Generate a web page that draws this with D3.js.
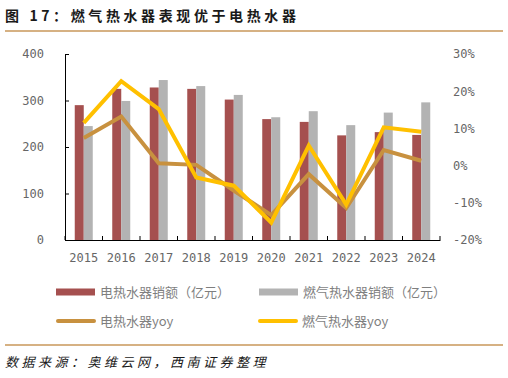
<!DOCTYPE html>
<html>
<head>
<meta charset="utf-8">
<script src="https://cdn.jsdelivr.net/npm/d3@7"></script>
<style>
  body { margin: 0; background: #fff; }
  svg { display: block; }
  .tick text { font-family: "DejaVu Sans Mono", monospace; font-size: 12px; fill: #666; }
  .legend text { font-family: "Noto Sans CJK SC", sans-serif; font-size: 13px; fill: #7f7f7f; }
</style>
</head>
<body>
<div id="chart"></div>
<script>
// data
const years = ["2015", "2016", "2017", "2018", "2019", "2020", "2021", "2022", "2023", "2024"];
const electricSales = [290, 325, 328, 325, 302, 260, 254, 225, 232, 226];
const gasSales = [245, 299, 344, 331, 312, 264, 277, 247, 274, 296];
const electricYoy = [7.4, 13.2, 0.6, 0.2, -6.7, -13.3, -2.3, -11.4, 4.2, 1.3];
const gasYoy = [11.5, 22.7, 15.2, -3.2, -5.4, -15.3, 5.4, -10.5, 10.3, 9.1];
const leftTicks = [0, 100, 200, 300, 400];
const rightTicks = [-20, -10, 0, 10, 20, 30];

const colors = {
  electric: "#a5504f",
  gas: "#b3b3b3",
  electricYoy: "#c8913f",
  gasYoy: "#ffc000"
};

const W = 508, H = 378;
const margin = {top: 54, right: 68, bottom: 138, left: 65};
const width = W - margin.left - margin.right;
const height = H - margin.top - margin.bottom;

const svg = d3.select("#chart").append("svg")
  .attr("width", W)
  .attr("height", H);

// title and rules
svg.append("text")
  .attr("x", 5)
  .attr("y", 21)
  .attr("font-family", "Noto Sans CJK SC, sans-serif")
  .attr("font-weight", "bold")
  .attr("font-size", 14)
  .attr("letter-spacing", 3.6)
  .attr("fill", "#1a1a1a")
  .text("图 17：燃气热水器表现优于电热水器");

svg.append("line")
  .attr("x1", 5).attr("x2", 503)
  .attr("y1", 31).attr("y2", 31)
  .attr("stroke", "#c9975a").attr("stroke-width", 1.5);

svg.append("line")
  .attr("x1", 5).attr("x2", 503)
  .attr("y1", 345).attr("y2", 345)
  .attr("stroke", "#c9975a").attr("stroke-width", 1.5);

svg.append("text")
  .attr("x", 5)
  .attr("y", 367)
  .attr("font-family", "Noto Sans CJK SC, sans-serif")
  .attr("font-size", 13)
  .attr("font-style", "italic")
  .attr("letter-spacing", 3.5)
  .attr("fill", "#1a1a1a")
  .text("数据来源：奥维云网，西南证券整理");

const chart = svg.append("g")
  .attr("transform", `translate(${margin.left},${margin.top})`);

// scales
const x = d3.scaleBand().domain(years).range([0, width]);
const y = d3.scaleLinear().domain([0, 400]).range([height, 0]);
const yRight = d3.scaleLinear().domain([-20, 30]).range([height, 0]);
const barW = 9;

// bars
chart.selectAll(".bar-electric")
  .data(years)
  .join("rect")
    .attr("class", "bar-electric")
    .attr("x", d => x(d) + x.bandwidth() / 2 - barW)
    .attr("y", (d, i) => y(electricSales[i]))
    .attr("width", barW)
    .attr("height", (d, i) => height - y(electricSales[i]))
    .attr("fill", colors.electric);

chart.selectAll(".bar-gas")
  .data(years)
  .join("rect")
    .attr("class", "bar-gas")
    .attr("x", d => x(d) + x.bandwidth() / 2)
    .attr("y", (d, i) => y(gasSales[i]))
    .attr("width", barW)
    .attr("height", (d, i) => height - y(gasSales[i]))
    .attr("fill", colors.gas);

// axes
const yAxis = d3.axisLeft(y).tickValues(leftTicks).tickSizeInner(-4).tickSizeOuter(0).tickPadding(21);
chart.append("g")
  .attr("class", "axis y-axis")
  .call(yAxis)
  .call(g => g.selectAll("path, line").attr("stroke", "#000"));

const yAxisRight = d3.axisRight(yRight).tickValues(rightTicks).tickSize(0).tickPadding(13)
  .tickFormat(d => d + "%");
chart.append("g")
  .attr("class", "axis y-axis-right")
  .attr("transform", `translate(${width},0)`)
  .call(yAxisRight)
  .call(g => g.select(".domain").remove());

const xAxis = d3.axisBottom(x).tickSize(0).tickPadding(13);
chart.append("g")
  .attr("class", "axis x-axis")
  .attr("transform", `translate(0,${height})`)
  .call(xAxis)
  .call(g => g.select(".domain").attr("stroke", "#000").attr("stroke-width", 1.2));

// category boundary ticks, pointing up
chart.append("g")
  .selectAll("line")
  .data(d3.range(years.length + 1))
  .join("line")
    .attr("x1", i => i * x.step())
    .attr("x2", i => i * x.step())
    .attr("y1", height)
    .attr("y2", height - 4)
    .attr("stroke", "#000");

// yoy lines
const lineGen = values => d3.line()
  .x((d, i) => x(years[i]) + x.bandwidth() / 2)
  .y(d => yRight(d))(values);

chart.append("path")
  .attr("d", lineGen(electricYoy))
  .attr("fill", "none")
  .attr("stroke", colors.electricYoy)
  .attr("stroke-width", 4);

chart.append("path")
  .attr("d", lineGen(gasYoy))
  .attr("fill", "none")
  .attr("stroke", colors.gasYoy)
  .attr("stroke-width", 4);

// legend
const legendItems = [
  {label: "电热水器销额（亿元）", color: colors.electric, type: "bar", x: 56, y: 292},
  {label: "燃气热水器销额（亿元）", color: colors.gas, type: "bar", x: 259, y: 292},
  {label: "电热水器yoy", color: colors.electricYoy, type: "line", x: 56, y: 321},
  {label: "燃气热水器yoy", color: colors.gasYoy, type: "line", x: 258, y: 321}
];

const legend = svg.append("g").attr("class", "legend")
  .selectAll("g")
  .data(legendItems)
  .join("g")
    .attr("transform", d => `translate(${d.x},${d.y})`);

legend.filter(d => d.type === "bar").append("rect")
  .attr("x", 0).attr("y", -3.5)
  .attr("width", 39).attr("height", 7)
  .attr("fill", d => d.color);

legend.filter(d => d.type === "line").append("line")
  .attr("x1", 2).attr("x2", 38)
  .attr("y1", 0).attr("y2", 0)
  .attr("stroke", d => d.color)
  .attr("stroke-width", 4)
  .attr("stroke-linecap", "round");

legend.append("text")
  .attr("x", 44)
  .attr("y", 0)
  .attr("dy", "0.35em")
  .text(d => d.label);
</script>
</body>
</html>
